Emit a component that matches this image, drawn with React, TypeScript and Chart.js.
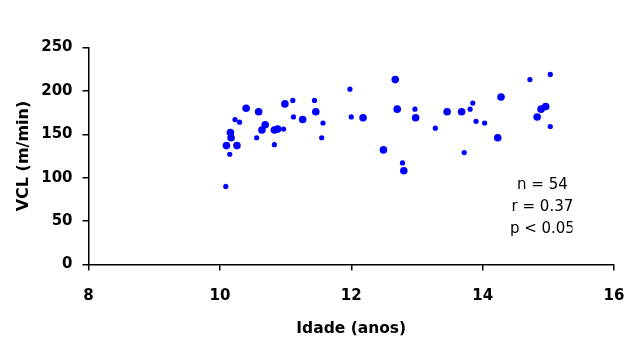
import React, { useEffect, useRef } from 'react';
import { Chart, registerables } from 'chart.js';

Chart.register(...registerables);

// X axis: Idade (anos); Y axis: VCL (m/min)
const xMin = 8;
const xMax = 16;
const xStep = 2;
const yMin = 0;
const yMax = 250;
const yStep = 50;

// Points drawn with small markers
const smallAge = [10.09, 10.15, 10.23, 10.30, 10.56, 10.83, 10.97, 11.11, 11.12, 11.44, 11.57, 11.55, 11.98, 12.00, 12.78, 12.97, 13.28, 13.72, 13.81, 13.85, 13.90, 14.03, 14.72, 15.03, 15.03];
const smallVCL = [90, 127, 167, 164, 146, 138, 156, 189, 170, 189, 163, 146, 202, 170, 117, 179, 157, 129, 179, 186, 165, 163, 213, 219, 159];

// Points drawn with larger (overlapping) markers
const bigAge = [10.10, 10.16, 10.17, 10.26, 10.40, 10.59, 10.64, 10.69, 10.83, 10.88, 10.99, 11.26, 11.46, 12.18, 12.49, 12.67, 12.70, 12.80, 12.98, 13.46, 13.68, 14.23, 14.28, 14.83, 14.89, 14.96];
const bigVCL = [137, 152, 146, 137, 180, 176, 155, 161, 155, 156, 185, 167, 176, 169, 132, 213, 179, 108, 169, 176, 176, 146, 193, 170, 179, 182];

const statLines = ['n = 54', 'r = 0.37', 'p < 0.05'];
const statAnchorAge = 14.91;
const statAnchorVCL = 91.5;

const xTitle = 'Idade (anos)';
const yTitle = 'VCL (m/min)';

const toPoints = (xs: number[], ys: number[]) => xs.map((x, i) => ({ x, y: ys[i] }));

const statsPlugin = {
  id: 'stats',
  afterDraw(chart: any) {
    const { ctx, scales } = chart;
    const cx = scales.x.getPixelForValue(statAnchorAge);
    const cy = scales.y.getPixelForValue(statAnchorVCL);
    ctx.save();
    ctx.beginPath();
    ctx.rect(0, 0, cx + 30, chart.height);
    ctx.clip();
    ctx.font = '15px "DejaVu Sans"';
    ctx.fillStyle = '#000';
    ctx.textAlign = 'center';
    ctx.textBaseline = 'middle';
    statLines.forEach((t, i) => ctx.fillText(t, cx, cy + i * 22));
    ctx.restore();
  },
};

export default function App() {
  const ref = useRef<HTMLCanvasElement>(null);

  useEffect(() => {
    if (!ref.current) return;
    const tickFont = { family: '"DejaVu Sans"', size: 15, weight: 'bold' as const };
    const xTitleFont = { family: '"DejaVu Sans"', size: 15.5, weight: 'bold' as const };
    const yTitleFont = { family: '"DejaVu Sans"', size: 16, weight: 'bold' as const };
    const chart = new Chart(ref.current, {
      type: 'scatter',
      data: {
        datasets: [
          {
            label: 'small',
            data: toPoints(smallAge, smallVCL),
            backgroundColor: '#0000ff',
            borderColor: '#0000ff',
            borderWidth: 0,
            pointRadius: 2.6,
            pointStyle: 'circle',
          },
          {
            label: 'big',
            data: toPoints(bigAge, bigVCL),
            backgroundColor: '#0000ff',
            borderColor: '#0000ff',
            borderWidth: 0,
            pointRadius: 3.8,
            pointStyle: 'circle',
          },
        ],
      },
      options: {
        responsive: false,
        animation: false,
        layout: { autoPadding: false, padding: { top: 47.5, right: 14, left: 0, bottom: 0 } },
        plugins: { legend: { display: false }, tooltip: { enabled: false } },
        scales: {
          x: {
            type: 'linear',
            position: 'bottom',
            min: xMin,
            max: xMax,
            afterFit: (s: any) => { s.height = 73.5; s.paddingLeft = 0; s.paddingRight = 0; },
            ticks: { stepSize: xStep, font: tickFont, color: '#000', padding: 17 },
            grid: { drawOnChartArea: false, drawTicks: true, tickLength: 6, color: '#000', lineWidth: 1.5 },
            border: { color: '#000', width: 1.5 },
            title: { display: true, text: xTitle, font: xTitleFont, color: '#000', padding: { top: 0, bottom: 0 } },
          },
          y: {
            type: 'linear',
            min: yMin,
            max: yMax,
            afterFit: (s: any) => { s.width = 88.5; s.paddingTop = 0; s.paddingBottom = 0; },
            ticks: { stepSize: yStep, font: tickFont, color: '#000', padding: 10 },
            grid: { drawOnChartArea: false, drawTicks: true, tickLength: 6, color: '#000', lineWidth: 1.5 },
            border: { color: '#000', width: 1.5 },
            title: { display: true, text: yTitle, font: yTitleFont, color: '#000', padding: { top: 14, bottom: 0 } },
          },
        },
      },
      plugins: [statsPlugin],
    });
    return () => chart.destroy();
  }, []);

  return (
    <div style={{ position: 'fixed', left: 0, top: 0, width: 628, height: 338, background: '#fff' }}>
      <canvas ref={ref} width={628} height={338} />
    </div>
  );
}
